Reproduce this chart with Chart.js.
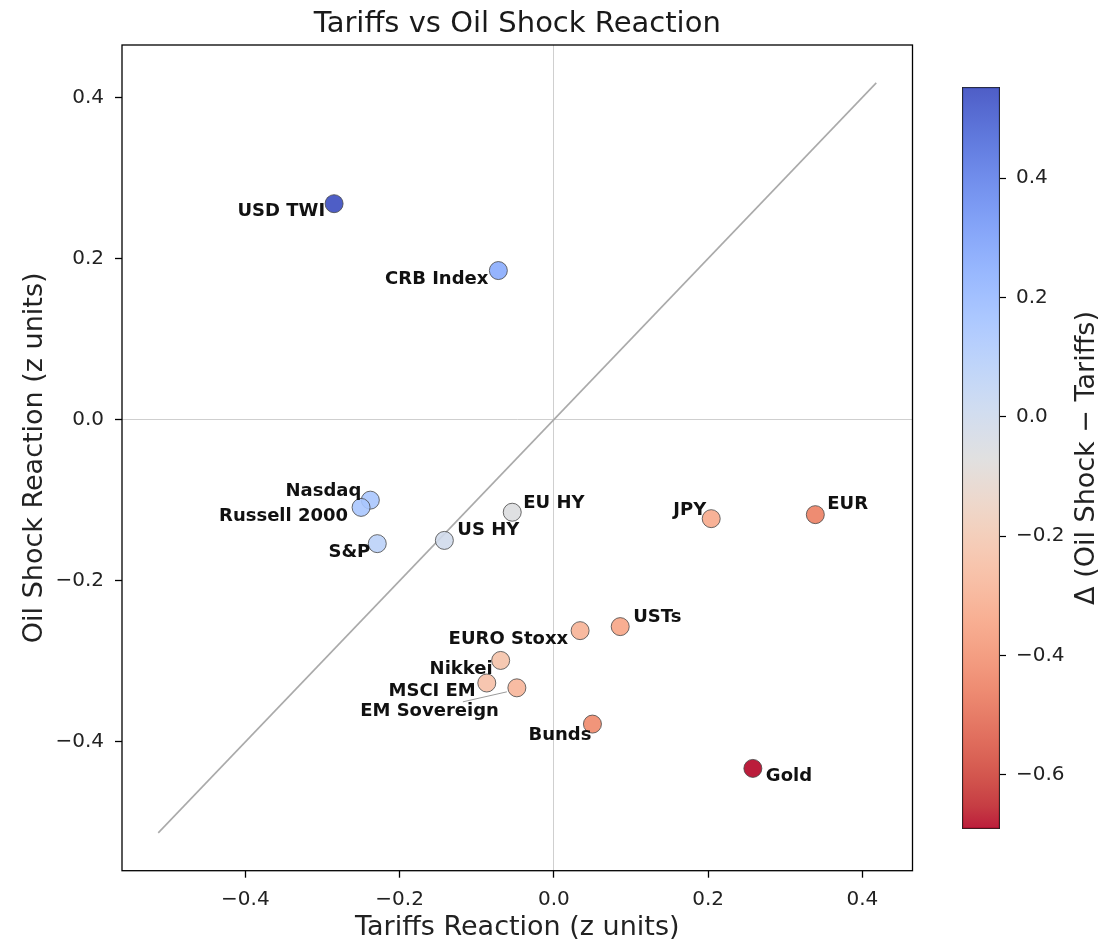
<!DOCTYPE html>
<html>
<head>
<meta charset="utf-8">
<title>Tariffs vs Oil Shock Reaction</title>
<script src="https://cdn.jsdelivr.net/npm/chart.js@4.4.1/dist/chart.umd.min.js"></script>
<style>
  html, body { margin: 0; padding: 0; background: #fff; }
  #wrap { position: relative; width: 1103px; height: 944px; }
  #scatter { position: absolute; left: 0; top: 0; }
  #cbar { position: absolute; left: 940px; top: 0; }
</style>
</head>
<body>
<div id="wrap">
  <canvas id="scatter" width="940" height="944"></canvas>
  <canvas id="cbar" width="163" height="944"></canvas>
</div>
<script>
// values
const assets = ["USD TWI", "CRB Index", "Nasdaq", "Russell 2000", "S&P", "US HY", "EU HY", "JPY",
  "EUR", "USTs", "EURO Stoxx", "Nikkei", "MSCI EM", "EM Sovereign", "Bunds", "Gold"];
const tariffs = [-0.285, -0.072, -0.238, -0.250, -0.229, -0.142, -0.054, 0.204,
  0.339, 0.086, 0.034, -0.069, -0.087, -0.048, 0.050, 0.258];
const oilShock = [0.268, 0.185, -0.100, -0.109, -0.154, -0.150, -0.115, -0.123,
  -0.118, -0.257, -0.262, -0.299, -0.327, -0.333, -0.378, -0.433];
const axisTicks = [-0.4, -0.2, 0, 0.2, 0.4];
const cbarTicks = [-0.6, -0.4, -0.2, 0, 0.2, 0.4];
const axisMin = -0.56;
const axisMax = 0.465;
const diagEnds = [-0.513, 0.418];

const chartTitle = "Tariffs vs Oil Shock Reaction";
const FONT = "DejaVu Sans";

// label offsets in px from the point: dx, dy, align, leader line
const labelPlacement = [
  [-9, 8, "right"],
  [-10, 9, "right"],
  [-9, -9, "right"],
  [-13, 9, "right"],
  [-7, 9, "right"],
  [13, -10, "left"],
  [11, -9, "left"],
  [-5, -8, "right"],
  [12, -10, "left"],
  [13, -9, "left"],
  [-12, 9, "right"],
  [-8, 9, "right"],
  [-11, 8, "right"],
  [-18, 23, "right", [-54, 14, -10, 4]],
  [-1, 11, "right"],
  [13, 8, "left"],
];

// matplotlib coolwarm
const coolwarm = [
  [59, 76, 192], [68, 90, 204], [77, 104, 215], [87, 117, 225], [98, 130, 234], [108, 142, 241],
  [119, 154, 247], [130, 165, 251], [141, 176, 254], [152, 185, 255], [163, 194, 255], [174, 201, 253],
  [184, 208, 249], [194, 213, 244], [204, 217, 238], [213, 219, 230], [221, 221, 221], [229, 216, 209],
  [236, 211, 197], [241, 204, 184], [245, 196, 172], [247, 187, 160], [247, 177, 148], [247, 166, 135],
  [244, 154, 123], [241, 141, 111], [236, 127, 99], [229, 112, 88], [222, 96, 77], [213, 80, 66],
  [203, 62, 56], [192, 40, 47], [180, 4, 38],
];
const ALPHA = 0.9;

function el(id) {
  return document.getElementById(id);
}

function rgba(c) {
  return `rgba(${Math.round(c[0])},${Math.round(c[1])},${Math.round(c[2])},${ALPHA})`;
}

function cmap(t) {
  t = Math.max(0, Math.min(1, t));
  const p = t * (coolwarm.length - 1);
  const i = Math.min(Math.floor(p), coolwarm.length - 2);
  const f = p - i;
  const a = coolwarm[i];
  const b = coolwarm[i + 1];
  return rgba([a[0] + (b[0] - a[0]) * f, a[1] + (b[1] - a[1]) * f, a[2] + (b[2] - a[2]) * f]);
}

function fmt(v) {
  const s = Number(v).toFixed(1);
  return s === "-0.0" ? "0.0" : s.replace("-", "\u2212");
}

const deltas = oilShock.map((y, i) => y - tariffs[i]);
const vmin = Math.min(...deltas);
const vmax = Math.max(...deltas);
const pointColors = deltas.map((d) => cmap((vmax - d) / (vmax - vmin)));

const framePlugin = {
  id: "frame",
  afterDraw(chart) {
    const { ctx, chartArea: a } = chart;
    ctx.save();
    ctx.strokeStyle = "#000";
    ctx.lineWidth = 1.3;
    ctx.strokeRect(a.left, a.top, a.right - a.left, a.bottom - a.top);
    ctx.fillStyle = "#1a1a1a";
    ctx.font = `29px "${FONT}"`;
    ctx.textAlign = "center";
    ctx.textBaseline = "alphabetic";
    ctx.fillText(chartTitle, (a.left + a.right) / 2, 31.7);
    ctx.restore();
  },
};

const labelPlugin = {
  id: "pointLabels",
  afterDatasetsDraw(chart) {
    const meta = chart.getDatasetMeta(1);
    const ctx = chart.ctx;
    ctx.save();
    ctx.font = `bold 18px "${FONT}"`;
    ctx.textBaseline = "middle";
    meta.data.forEach((pt, i) => {
      const [dx, dy, align, leader] = labelPlacement[i];
      if (leader) {
        ctx.strokeStyle = "#9a9a9a";
        ctx.lineWidth = 1;
        ctx.beginPath();
        ctx.moveTo(pt.x + leader[0], pt.y + leader[1]);
        ctx.lineTo(pt.x + leader[2], pt.y + leader[3]);
        ctx.stroke();
      }
      ctx.fillStyle = "#111";
      ctx.textAlign = align;
      ctx.fillText(assets[i], pt.x + dx, pt.y + dy);
    });
    ctx.restore();
  },
};

const zeroLine = (c) => (c.tick && c.tick.value === 0 ? "#cfcfcf" : "rgba(0,0,0,0)");

function renderScatter() {
  new Chart(el("scatter"), {
    type: "scatter",
    data: {
      datasets: [
        {
          data: diagEnds.map((v) => ({ x: v, y: v })),
          showLine: true,
          borderColor: "#aaaaaa",
          borderWidth: 1.6,
          pointRadius: 0,
          order: 2,
        },
        {
          data: tariffs.map((x, i) => ({ x, y: oilShock[i] })),
          pointRadius: 9,
          pointBackgroundColor: pointColors,
          pointBorderColor: "rgba(70,70,70,0.8)",
          pointBorderWidth: 1,
          order: 1,
        },
      ],
    },
    options: {
      responsive: false,
      animation: false,
      layout: { padding: { top: 45, right: 27.5, bottom: 0, left: 0 } },
      plugins: { legend: { display: false }, tooltip: { enabled: false } },
      scales: {
        x: {
          type: "linear",
          min: axisMin,
          max: axisMax,
          afterBuildTicks: (s) => {
            s.ticks = axisTicks.map((v) => ({ value: v }));
          },
          afterFit: (s) => {
            s.height = 73.3;
          },
          grid: { color: zeroLine, lineWidth: 1, tickLength: 7, tickColor: "#000", tickWidth: 1.3 },
          border: { display: false },
          ticks: { font: { family: FONT, size: 20 }, color: "#222", padding: 10, maxRotation: 0, callback: fmt },
          title: {
            display: true,
            text: "Tariffs Reaction (z units)",
            font: { family: FONT, size: 27 },
            color: "#222",
            padding: { top: 0, bottom: 0 },
          },
        },
        y: {
          type: "linear",
          min: axisMin,
          max: axisMax,
          afterBuildTicks: (s) => {
            s.ticks = axisTicks.map((v) => ({ value: v }));
          },
          afterFit: (s) => {
            s.width = 122;
          },
          grid: { color: zeroLine, lineWidth: 1, tickLength: 7, tickColor: "#000", tickWidth: 1.3 },
          border: { display: false },
          ticks: { font: { family: FONT, size: 20 }, color: "#222", padding: 11, callback: fmt },
          title: {
            display: true,
            text: "Oil Shock Reaction (z units)",
            font: { family: FONT, size: 27 },
            color: "#222",
            padding: { top: 19, bottom: 0 },
          },
        },
      },
    },
    plugins: [framePlugin, labelPlugin],
  });
}

const cbarLabelPlugin = {
  id: "cbarLabel",
  afterDraw(chart) {
    const ctx = chart.ctx;
    ctx.save();
    ctx.translate(147, 458);
    ctx.rotate(-Math.PI / 2);
    ctx.fillStyle = "#222";
    ctx.font = `27px "${FONT}"`;
    ctx.textAlign = "center";
    ctx.textBaseline = "middle";
    ctx.fillText("\u0394 (Oil Shock \u2212 Tariffs)", 0, 0);
    ctx.restore();
  },
};

function gradientFill(c) {
  const chart = c.chart;
  if (!chart.chartArea) return "#ddd";
  const y = chart.scales.y;
  const g = chart.ctx.createLinearGradient(0, y.getPixelForValue(vmax), 0, y.getPixelForValue(vmin));
  coolwarm.forEach((col, k) => g.addColorStop(k / (coolwarm.length - 1), rgba(col)));
  return g;
}

function renderColorbar() {
  new Chart(el("cbar"), {
    type: "bar",
    data: {
      labels: [""],
      datasets: [
        {
          data: [[vmin, vmax]],
          backgroundColor: gradientFill,
          borderColor: "#222",
          borderWidth: 1.2,
          borderSkipped: false,
          barPercentage: 1,
          categoryPercentage: 1,
        },
      ],
    },
    options: {
      responsive: false,
      animation: false,
      layout: { padding: { left: 22, top: 87, bottom: 115, right: 0 } },
      plugins: { legend: { display: false }, tooltip: { enabled: false } },
      scales: {
        x: { display: false },
        y: {
          position: "right",
          min: vmin,
          max: vmax,
          afterBuildTicks: (s) => {
            s.ticks = cbarTicks.map((v) => ({ value: v }));
          },
          afterFit: (s) => {
            s.width = 103;
          },
          grid: { drawOnChartArea: false, tickLength: 6, tickColor: "#000", tickWidth: 1.2 },
          border: { display: false },
          ticks: { font: { family: FONT, size: 20 }, color: "#222", padding: 10, callback: fmt },
        },
      },
    },
    plugins: [cbarLabelPlugin],
  });
}

renderScatter();
renderColorbar();
</script>
</body>
</html>
